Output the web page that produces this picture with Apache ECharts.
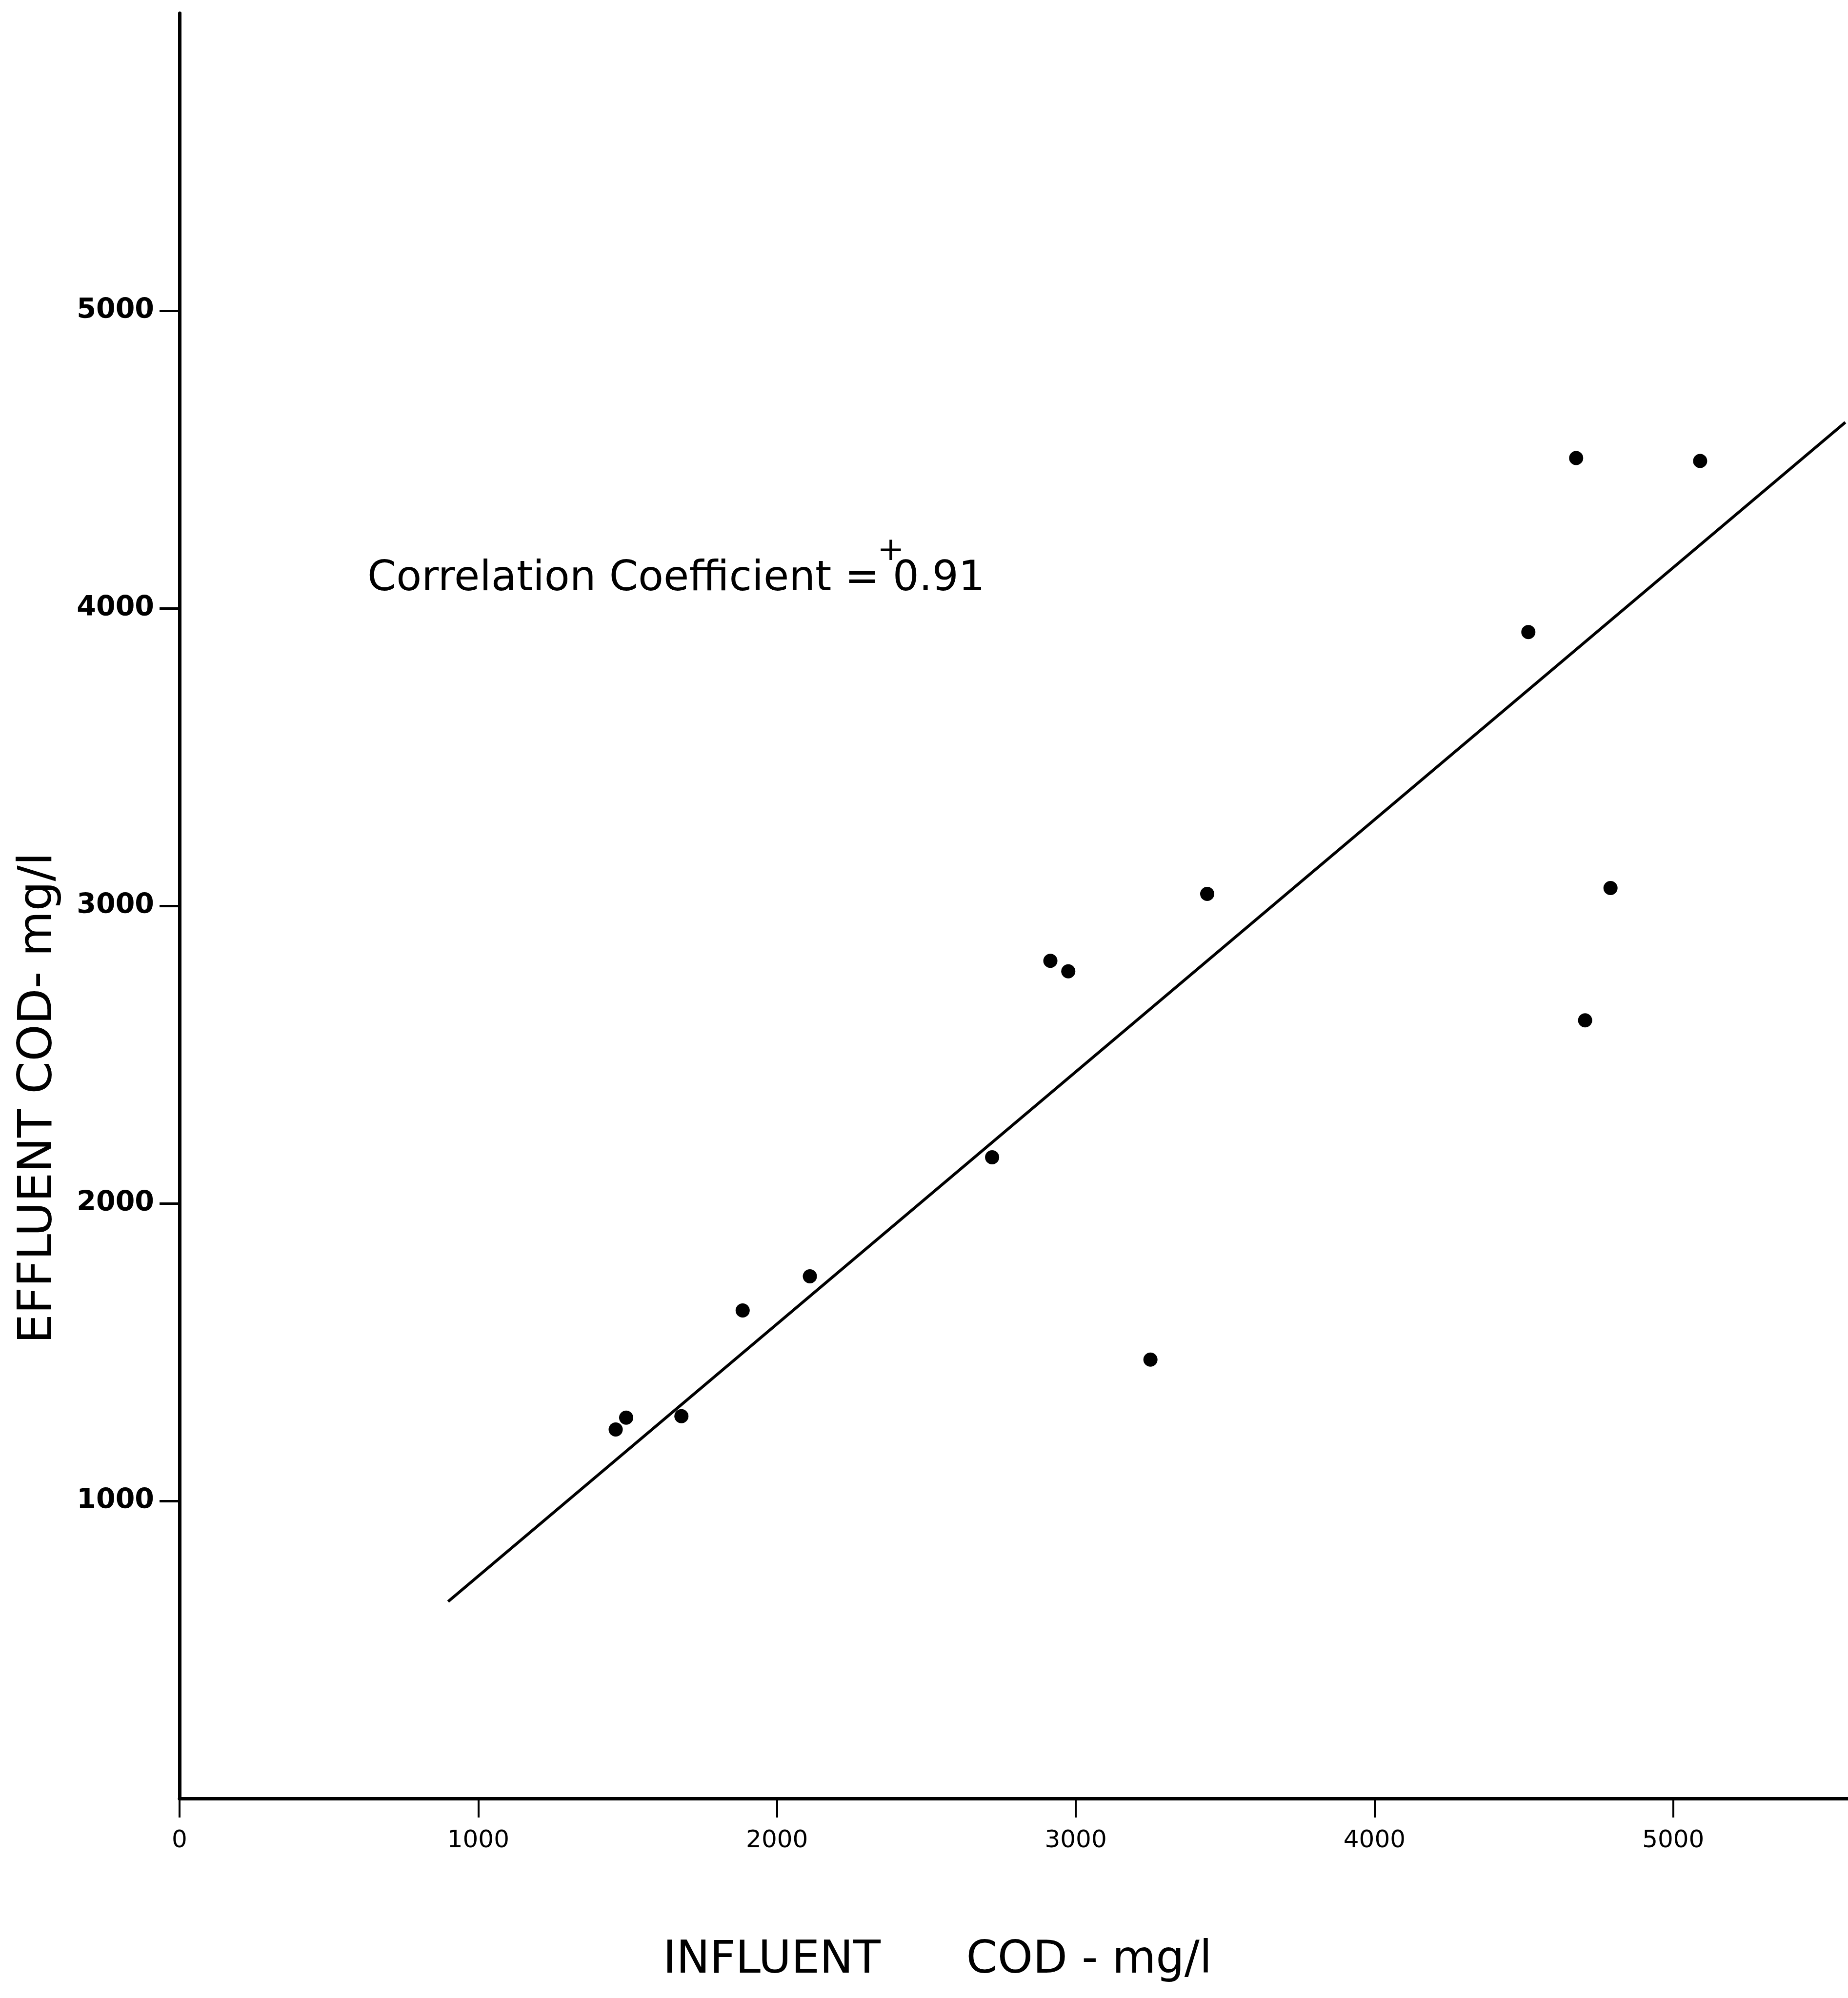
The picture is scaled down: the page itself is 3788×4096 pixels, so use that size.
<!DOCTYPE html>
<html>
<head>
<meta charset="utf-8">
<script src="https://cdn.jsdelivr.net/npm/echarts@6/dist/echarts.min.js"></script>
<style>
  html, body { margin: 0; padding: 0; background: #ffffff; }
  #chart { width: 3788px; height: 4096px; }
</style>
</head>
<body>
<div id="chart"></div>
<script>
// Influent vs effluent COD (mg/l), one point per sample
const influentCOD = [1460, 1495, 1680, 1885, 2110, 2720, 2915, 2975, 3250, 3440, 4515, 4675, 4705, 4790, 5090];
const effluentCOD = [1240, 1280, 1285, 1640, 1755, 2155, 2815, 2780, 1475, 3040, 3920, 4505, 2615, 3060, 4495];

// End points of the fitted regression line
const fitInfluent = [899, 5576];
const fitEffluent = [662, 4625];

// Tick values shown on each axis
const xTickValues = [0, 1000, 2000, 3000, 4000, 5000];
const yTickValues = [1000, 2000, 3000, 4000, 5000];

const xTitle = 'INFLUENT      COD - mg/l';
const yTitle = 'EFFLUENT COD- mg/l';
const correlationLabel = 'Correlation Coefficient = 0.91';
const correlationSign = '+';

const INK = '#000000';
const FONT = '"DejaVu Sans", "Liberation Sans", sans-serif';

const points = influentCOD.map((x, i) => [x, effluentCOD[i]]);
const fitLine = fitInfluent.map((x, i) => [x, fitEffluent[i]]);

const chart = echarts.init(document.getElementById('chart'), null, { renderer: 'canvas' });

chart.setOption({
  animation: false,
  backgroundColor: '#ffffff',
  grid: {
    left: 368,
    right: 0,
    top: 27,
    bottom: 409,
    containLabel: false,
    outerBoundsMode: 'none'
  },
  xAxis: {
    type: 'value',
    min: 0,
    max: 5585,
    interval: 1000,
    splitLine: { show: false },
    axisLine: { show: true, onZero: false, lineStyle: { color: INK, width: 7 } },
    axisTick: {
      show: true,
      inside: false,
      length: 39,
      customValues: xTickValues,
      lineStyle: { color: INK, width: 4 }
    },
    axisLabel: {
      show: true,
      margin: 62,
      customValues: xTickValues,
      formatter: (v) => String(v),
      color: INK,
      fontSize: 50,
      fontFamily: FONT
    }
  },
  yAxis: {
    type: 'value',
    min: 0,
    max: 6000,
    interval: 1000,
    splitLine: { show: false },
    axisLine: { show: true, onZero: false, lineStyle: { color: INK, width: 7 } },
    axisTick: {
      show: true,
      inside: false,
      length: 41,
      customValues: yTickValues,
      lineStyle: { color: INK, width: 5 }
    },
    axisLabel: {
      show: true,
      margin: 52,
      customValues: yTickValues,
      formatter: (v) => String(v),
      color: INK,
      fontSize: 57,
      fontWeight: 'bold',
      fontFamily: FONT
    }
  },
  series: [
    {
      name: 'Regression',
      type: 'line',
      data: fitLine,
      symbol: 'none',
      silent: true,
      lineStyle: { color: INK, width: 6 },
      z: 2
    },
    {
      name: 'Samples',
      type: 'scatter',
      data: points,
      symbol: 'circle',
      symbolSize: 29,
      itemStyle: { color: INK, opacity: 1 },
      z: 3
    }
  ],
  graphic: [
    {
      type: 'text',
      x: 753,
      y: 1188,
      style: {
        text: correlationLabel,
        fill: INK,
        fontSize: 85,
        fontFamily: FONT,
        textAlign: 'left',
        textVerticalAlign: 'middle'
      }
    },
    {
      type: 'text',
      x: 1826,
      y: 1131,
      style: {
        text: correlationSign,
        fill: INK,
        fontSize: 66,
        fontFamily: FONT,
        textAlign: 'center',
        textVerticalAlign: 'middle'
      }
    },
    {
      type: 'text',
      x: 1359,
      y: 4020,
      style: {
        text: xTitle,
        fill: INK,
        fontSize: 92,
        fontFamily: FONT,
        textAlign: 'left',
        textVerticalAlign: 'middle'
      }
    },
    {
      type: 'text',
      x: 80,
      y: 2251,
      rotation: Math.PI / 2,
      style: {
        text: yTitle,
        fill: INK,
        fontSize: 96,
        fontFamily: FONT,
        textAlign: 'center',
        textVerticalAlign: 'middle'
      }
    }
  ]
});
</script>
</body>
</html>
